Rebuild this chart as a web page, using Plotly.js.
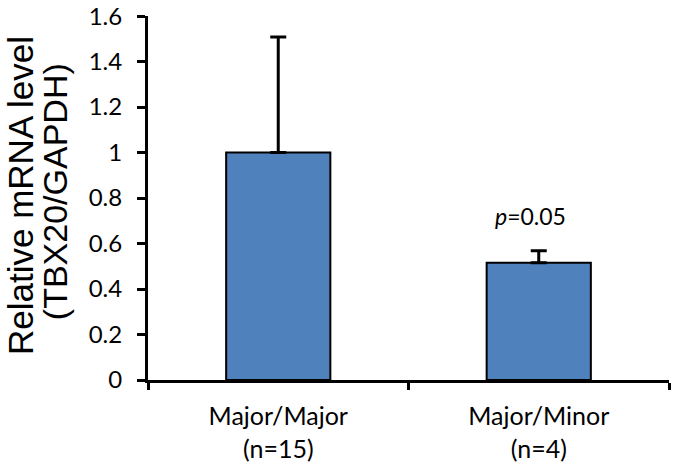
<!DOCTYPE html>
<html>
<head>
<meta charset="utf-8">
<script src="https://cdn.plot.ly/plotly-3.0.1.min.js"></script>
<style>html,body{margin:0;padding:0;background:#fff;}#chart{width:675px;height:470px;}</style>
</head>
<body>
<div id="chart"></div>
<script>
var categories = ["Major/Major<br>(n=15)", "Major/Minor<br>(n=4)"];
var values = [1.0, 0.515];
var errors = [0.508, 0.053];
var yTicks = [0, 0.2, 0.4, 0.6, 0.8, 1, 1.2, 1.4, 1.6];
var yTickLabels = ["0", "0.2", "0.4", "0.6", "0.8", "1", "1.2", "1.4", "1.6"];
var pLabel = "<i>p</i>=0.05";

var trace = {
  type: "bar",
  x: categories,
  y: values,
  marker: {color: "#4F81BD", line: {color: "#000", width: 2}},
  error_y: {type: "data", array: errors, symmetric: false, arrayminus: [0, 0], visible: true, color: "#000", thickness: 3, width: 8},
  hoverinfo: "none"
};

var layout = {
  width: 675, height: 470,
  margin: {l: 148, r: 6, t: 16, b: 90},
  paper_bgcolor: "#fff", plot_bgcolor: "#fff",
  showlegend: false,
  bargap: 0.6,
  font: {family: "Lato, 'Open Sans', sans-serif", color: "#000"},
  xaxis: {
    type: "category",
    range: [-0.5, 1.5],
    showline: true, linecolor: "#000", linewidth: 3,
    ticks: "outside", tickson: "boundaries", ticklen: 7, tickwidth: 3, tickcolor: "#000",
    ticklabelstandoff: 12,
    tickfont: {family: "Lato, sans-serif", size: 25, color: "#000"},
    showgrid: false, zeroline: false, fixedrange: true
  },
  yaxis: {
    range: [0, 1.6005],
    tickvals: yTicks, ticktext: yTickLabels,
    showline: true, linecolor: "#000", linewidth: 3,
    ticks: "outside", ticklen: 8, tickwidth: 3, tickcolor: "#000",
    ticklabelstandoff: 10,
    ticklabeloverflow: "allow",
    tickfont: {family: "Lato, sans-serif", size: 24, color: "#000"},
    showgrid: false, zeroline: false, fixedrange: true
  },
  annotations: [
    {text: "Relative mRNA level", xref: "paper", yref: "paper", x: (21 - 148) / 521, y: 0.5055, xanchor: "center", yanchor: "middle",
     textangle: -90, showarrow: false, font: {family: "'Liberation Sans', Arial, sans-serif", size: 35, color: "#000"}},
    {text: "(TBX20/GAPDH)", xref: "paper", yref: "paper", x: (55 - 148) / 521, y: 0.516, xanchor: "center", yanchor: "middle",
     textangle: -90, showarrow: false, font: {family: "'Liberation Sans', Arial, sans-serif", size: 34, color: "#000"}},
    {text: pLabel, xref: "x", yref: "y", x: categories[1], y: 0.72, xshift: -8, showarrow: false,
     font: {family: "Lato, sans-serif", size: 23, color: "#000"}}
  ]
};

Plotly.newPlot("chart", [trace], layout, {displayModeBar: false, staticPlot: true});
</script>
</body>
</html>
